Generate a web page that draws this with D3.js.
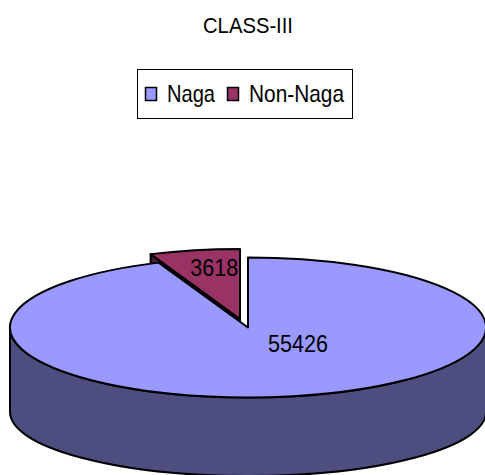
<!DOCTYPE html>
<html>
<head>
<meta charset="utf-8">
<script src="https://cdn.jsdelivr.net/npm/d3@7"></script>
<style>
  html, body { margin: 0; padding: 0; background: #fff; }
  svg { display: block; }
  text { font-family: "Liberation Sans", Arial, sans-serif; fill: #000; }
</style>
</head>
<body>
<svg id="chart" width="485" height="475"></svg>
<script>
// ---- data ----
const title = "CLASS-III";
const categories = ["Naga", "Non-Naga"];
const values = [55426, 3618];

// ---- style / layout ----
const topColors  = ["#9999FF", "#993366"];
const sideColors = ["#4D4D80", "#4D1A33"];
const W = 485, H = 475;
const geo = { cx: 248, cy: 327.5, rx: 238, ry: 70, bcy: 412, bry: 64 };
const explode = [[0, 0], [-8, -8.5]];
// label anchors relative to slice centre, in radius units
const labelAnchor = [[0.21, 0.23], [-0.108, -0.73]];

const svg = d3.select("#chart");

// title
svg.append("text")
  .attr("x", 248).attr("y", 33)
  .attr("text-anchor", "middle")
  .attr("font-size", 22)
  .attr("textLength", 90).attr("lengthAdjust", "spacingAndGlyphs")
  .text(title);

// legend
const lg = svg.append("g");
lg.append("rect").attr("x", 137.5).attr("y", 69.5).attr("width", 215).attr("height", 49)
  .attr("fill", "#fff").attr("stroke", "#000").attr("stroke-width", 1);
const legendX = [145, 227];
const legendTextLen = [48, 95];
categories.forEach((c, i) => {
  lg.append("rect").attr("x", legendX[i] + 0.5).attr("y", 87.5).attr("width", 11).attr("height", 13)
    .attr("fill", topColors[i]).attr("stroke", "#000").attr("stroke-width", 1.5);
  lg.append("text").attr("x", legendX[i] + 22).attr("y", 102)
    .attr("font-size", 24)
    .attr("textLength", legendTextLen[i]).attr("lengthAdjust", "spacingAndGlyphs")
    .text(c);
});

// pie layout
const pie = d3.pie().sort(null).startAngle(0).endAngle(2 * Math.PI);
const arcs = pie(values);

function pt(a, i, bottom) {
  const [dx, dy] = explode[i];
  const cy = bottom ? geo.bcy : geo.cy;
  const ry = bottom ? geo.bry : geo.ry;
  return [geo.cx + dx + geo.rx * Math.sin(a), cy + dy - ry * Math.cos(a)];
}
function ctr(i, bottom) {
  const [dx, dy] = explode[i];
  return [geo.cx + dx, (bottom ? geo.bcy : geo.cy) + dy];
}
function topPath(d, i) {
  const c = ctr(i, false), p0 = pt(d.startAngle, i, false), p1 = pt(d.endAngle, i, false);
  const large = (d.endAngle - d.startAngle) > Math.PI ? 1 : 0;
  return `M${c}L${p0}A${geo.rx},${geo.ry} 0 ${large} 1 ${p1}Z`;
}
function cutWall(a, i) {
  const c = ctr(i, false), p = pt(a, i, false), pb = pt(a, i, true), cb = ctr(i, true);
  return `M${c}L${p}L${pb}L${cb}Z`;
}
function outerWall(a0, a1, i) {
  // visible front part of rim between a0 and a1 (clipped to [PI/2, 3PI/2])
  const s = Math.max(a0, Math.PI / 2), e = Math.min(a1, 3 * Math.PI / 2);
  if (e <= s) return null;
  const t0 = pt(s, i, false), t1 = pt(e, i, false), b1 = pt(e, i, true), b0 = pt(s, i, true);
  const large = (e - s) > Math.PI ? 1 : 0;
  return `M${t0}A${geo.rx},${geo.ry} 0 ${large} 1 ${t1}L${b1}A${geo.rx},${geo.bry} 0 ${large} 0 ${b0}Z`;
}

const g = svg.append("g")
  .attr("stroke", "#000").attr("stroke-width", 2).attr("stroke-linejoin", "round");

// back (exploded) slice first
const order = [1, 0];
order.forEach(i => {
  const d = arcs[i];
  // cut wall at start angle (faces viewer for back slice)
  if (i === 1) {
    g.append("path").attr("d", cutWall(d.startAngle, i)).attr("fill", sideColors[i]);
  }
  const ow = outerWall(d.startAngle, d.endAngle, i);
  if (ow) g.append("path").attr("d", ow).attr("fill", sideColors[i]);
  g.append("path").attr("d", topPath(d, i)).attr("fill", topColors[i]);
});

// labels
arcs.forEach((d, i) => {
  const c = ctr(i, false);
  svg.append("text")
    .attr("x", c[0] + labelAnchor[i][0] * geo.rx)
    .attr("y", c[1] + labelAnchor[i][1] * geo.ry + 8.5)
    .attr("text-anchor", "middle")
    .attr("font-size", 24)
    .attr("textLength", String(d.data).length * 12).attr("lengthAdjust", "spacingAndGlyphs")
    .text(d.data);
});
</script>
</body>
</html>
